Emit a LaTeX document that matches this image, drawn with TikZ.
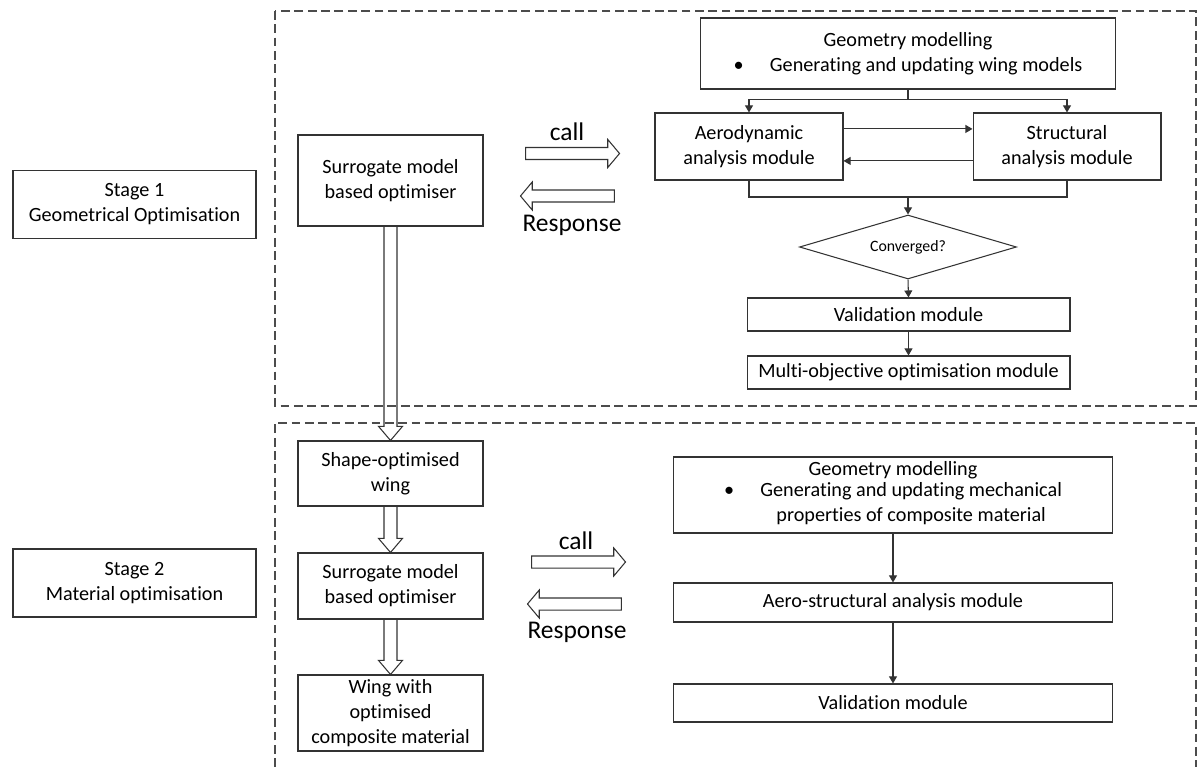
\documentclass[tikz,border=0pt]{standalone}
\usepackage{fontspec}
\setmainfont{Carlito}[Ligatures=NoCommon]
\usetikzlibrary{arrows.meta, positioning, shapes.geometric, shapes.arrows, calc}

\begin{document}
\begin{tikzpicture}[
    x=0.02cm, y=-0.02cm,
    box/.style={draw=black!80, line width=0.6pt, align=center, inner sep=2pt,
      font=\fontsize{11.5}{14.2}\selectfont},
    frame/.style={draw=black!70, line width=0.6pt, dash pattern=on 5pt off 2.6pt},
    line/.style={draw=black!80, line width=0.6pt},
    link/.style={line, -{Triangle[length=4pt, width=4.5pt]}},
    hollow/.style={line, to path={let \p1=(\tikztostart), \p2=(\tikztotarget) in
      (\x1-3.7pt,\y1) -- (\x1-3.7pt,\y2+8pt) -- (\x1-6.8pt,\y2+8pt) -- (\x1,\y2)
      -- (\x1+6.8pt,\y2+8pt) -- (\x1+3.7pt,\y2+8pt) -- (\x1+3.7pt,\y1)}},
    callarr/.style={single arrow, draw=black!80, line width=0.6pt,
      inner xsep=0pt, inner ysep=0.11cm, minimum height=1.88cm,
      single arrow head extend=0.16cm, single arrow tip angle=100},
    lbl/.style={font=\fontsize{14.5}{17}\selectfont}
  ]
    \useasboundingbox (0,0) rectangle (1197,767);

    % stage frames
    \draw[frame] (275,11) rectangle (1196,406);
    \draw[frame] (275,767) -- (275,423) -- (1196,423) -- (1196,767);

    % stage labels
    \node[box, minimum width=4.86cm, minimum height=1.36cm] (stageA) at (134.5,204.5)
      {Stage 1\\Geometrical Optimisation};
    \node[box, minimum width=4.86cm, minimum height=1.36cm] (stageB) at (134.5,583)
      {Stage 2\\Material optimisation};

    % optimiser column
    \node[box, minimum width=3.7cm, minimum height=1.82cm] (surrA) at (390.5,180.5)
      {Surrogate model\\based optimiser};
    \node[box, minimum width=3.7cm, minimum height=1.3cm] (shape) at (390.5,473.5)
      {Shape-optimised\\wing};
    \node[box, minimum width=3.7cm, minimum height=1.32cm] (surrB) at (390.5,586)
      {Surrogate model\\based optimiser};
    \node[box, minimum width=3.7cm, minimum height=1.52cm] (wing) at (390.5,713)
      {Wing with\\optimised\\composite material};
    \draw[hollow] (surrA.south) to (shape.north);
    \draw[hollow] (shape.south) to (surrB.north);
    \draw[hollow] (surrB.south) to (wing.north);

    % call / response
    \node[callarr] (callA) at (570,153.5) {};
    \node[callarr, shape border rotate=180] (respA) at (570,196) {};
    \node[lbl] (callAt) at (567,132) {call};
    \node[lbl] (respAt) at (572,225) {Response};
    \node[callarr] (callB) at (576,562) {};
    \node[callarr, shape border rotate=180] (respB) at (577,604) {};
    \node[lbl] (callBt) at (576,541) {call};
    \node[lbl] (respBt) at (577,632) {Response};

    % stage 1 modules
    \node[box, minimum width=8.32cm, minimum height=1.42cm] (geoA) at (908,53.5)
      {Geometry modelling\\\textbullet\hspace{1.3em}Generating and updating wing models};
    \node[box, minimum width=3.76cm, minimum height=1.34cm] (aero) at (749,146.5)
      {Aerodynamic\\analysis module};
    \node[box, minimum width=3.76cm, minimum height=1.34cm] (struct) at (1067,146.5)
      {Structural\\analysis module};
    \node[box, diamond, aspect=3.4, inner sep=0pt, minimum width=4.34cm, minimum height=1.28cm,
      font=\fontsize{9}{10}\selectfont] (conv) at (908,247) {Converged?};
    \node[box, minimum width=6.46cm, minimum height=0.66cm] (valA) at (908.5,314.5)
      {Validation module};
    \node[box, minimum width=6.46cm, minimum height=0.66cm] (multi) at (908.5,372.5)
      {Multi-objective optimisation module};

    \draw[line] (geoA.south) -- ++(0,10) coordinate (split);
    \draw[link] (split) -| (aero.north);
    \draw[link] (split) -| (struct.north);
    \draw[link] ([yshift=10pt]aero.east) -- ([yshift=10pt]struct.west);
    \draw[link] ([yshift=-8.2pt]struct.west) -- ([yshift=-8.2pt]aero.east);
    \coordinate (merge) at (908,197);
    \draw[line] (aero.south) |- (merge) -| (struct.south);
    \draw[link] (merge) -- (conv.north);
    \draw[link] (conv.south) -- (valA.north);
    \draw[link] (valA.south) -- (multi.north);

    % stage 2 modules
    \node[box, minimum width=8.8cm, minimum height=1.52cm] (geoB) at (893,495)
      {Geometry modelling\\[-1pt]
       \begin{tabular}{@{}l@{\hspace{1.3em}}c@{}}
         \textbullet & Generating and updating mechanical\\
                     & properties of composite material
       \end{tabular}};
    \node[box, minimum width=8.8cm, minimum height=0.78cm] (aeroB) at (893,602.5)
      {Aero-structural analysis module};
    \node[box, minimum width=8.8cm, minimum height=0.76cm] (valB) at (893,703)
      {Validation module};
    \draw[link] (geoB.south) -- (aeroB.north);
    \draw[link] (aeroB.south) -- (valB.north);
\end{tikzpicture}
\end{document}
